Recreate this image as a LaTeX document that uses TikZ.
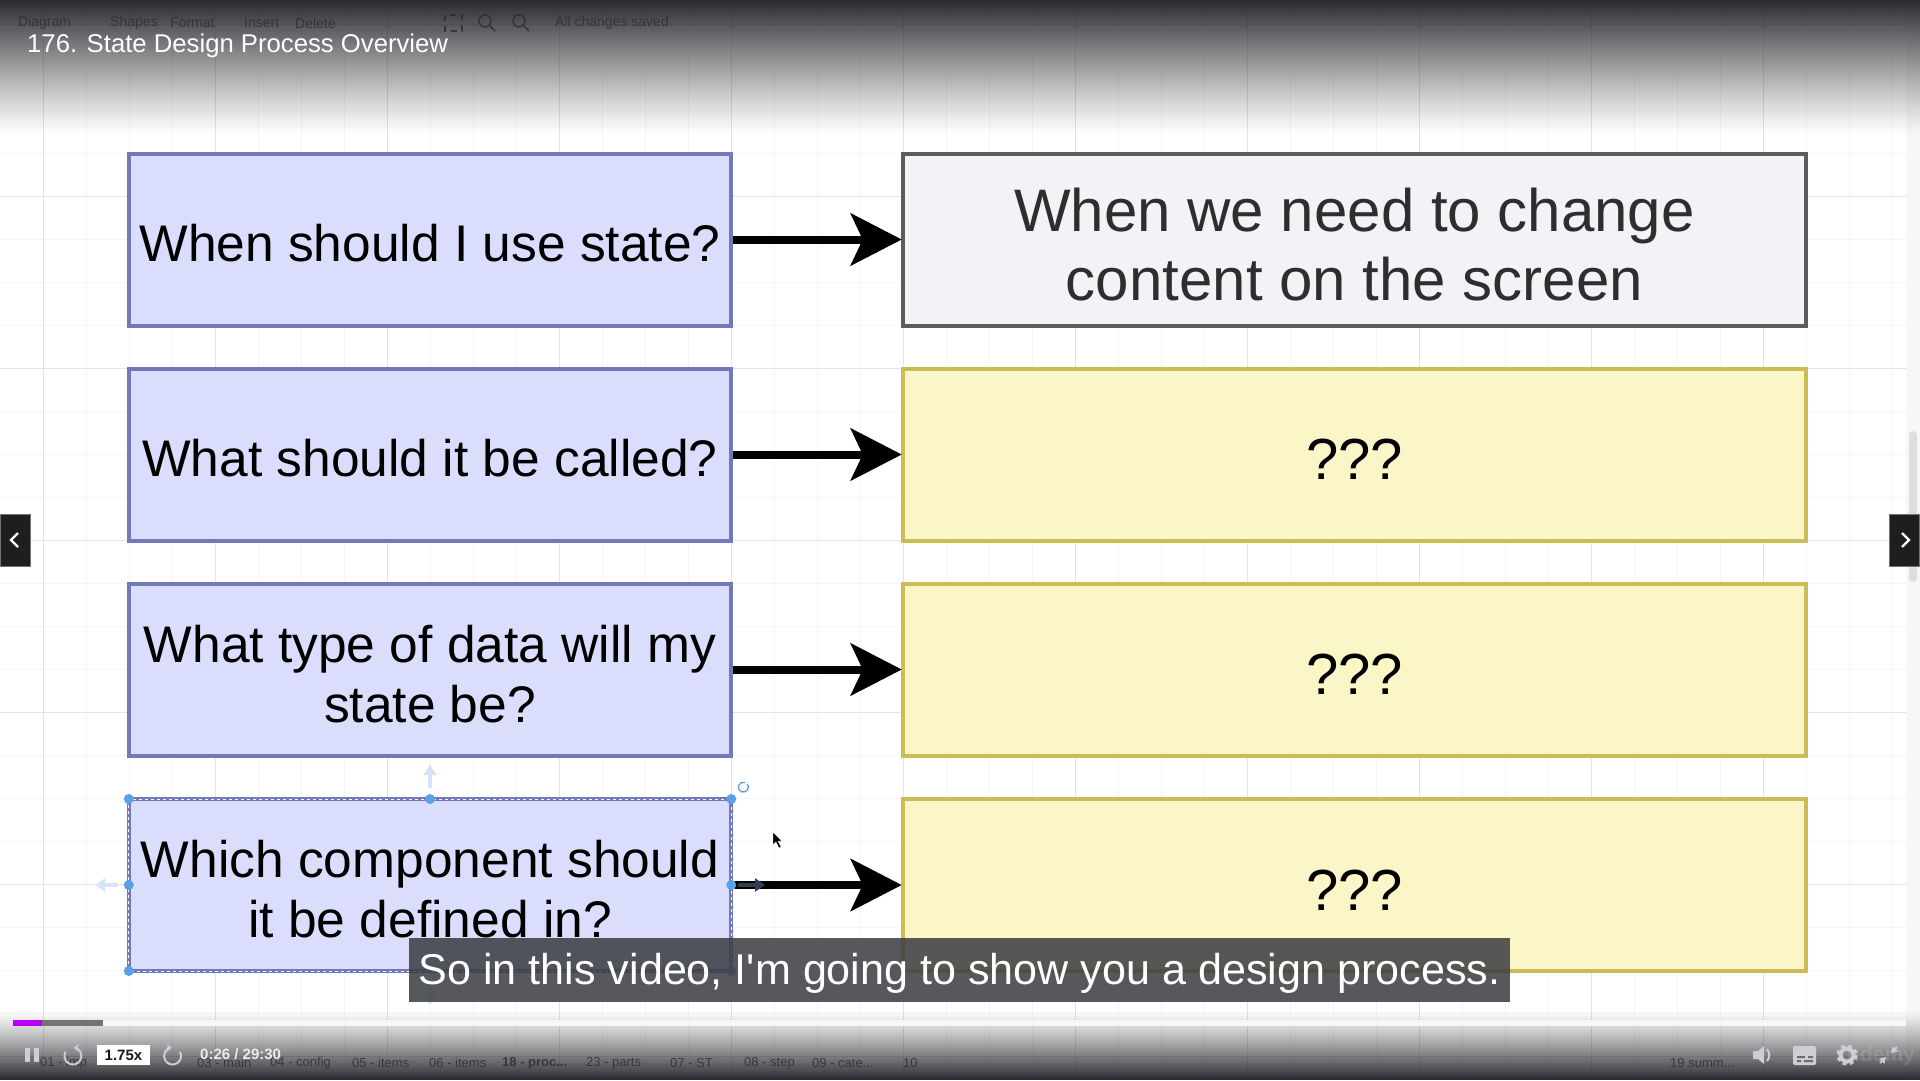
\documentclass[tikz,border=0pt]{standalone}
\usepackage{fontspec}
\setmainfont{Liberation Sans}
\newfontfamily\capfont{Liberation Sans}
\usetikzlibrary{arrows.meta}
\definecolor{askfill}{HTML}{DADEFC}
\definecolor{askline}{HTML}{7379B8}
\definecolor{donefill}{HTML}{F4F2F6}
\definecolor{doneline}{HTML}{5C5C5E}
\definecolor{openfill}{HTML}{FAF6C8}
\definecolor{openline}{HTML}{CDBB55}
\definecolor{veil}{HTML}{2A2B30}
\definecolor{handle}{HTML}{5AA0E8}
\definecolor{ghost}{HTML}{D3E4F8}
\definecolor{icon}{HTML}{CDCED1}
\definecolor{captionbg}{HTML}{3A3B40}
\definecolor{navbg}{HTML}{1C1E20}
\definecolor{played}{HTML}{B800F5}
\definecolor{pullnavy}{HTML}{2F3E55}
\tikzset{
    ask/.style={draw=askline, fill=askfill, line width=4pt, outer sep=0, inner sep=0,
        minimum width=602.5pt, minimum height=172pt, align=center,
        font=\fontsize{51.5}{60}\selectfont,
        execute at begin node={\rule{0pt}{44.5pt}}},
    answer/.style={line width=4pt, outer sep=0, inner sep=0,
        minimum width=902.5pt, minimum height=172pt, align=center},
    done/.style={answer, draw=doneline, fill=donefill, text=black!82,
        font=\fontsize{60}{69}\selectfont},
    open/.style={answer, draw=openline, fill=openfill,
        font=\fontsize{58}{69}\selectfont,
        execute at begin node={\rule{0pt}{50pt}}},
    link/.style={line width=8pt, -{Stealth[length=51pt, width=52pt, inset=12pt]},
        shorten >=1.5pt, shorten <=1.5pt},
    dot/.style={circle, fill=handle, inner sep=0, minimum size=10pt},
    nudge/.style={ghost, line width=4pt, -{Stealth[length=10pt, width=13pt, inset=0pt]}},
    menu/.style={anchor=west, inner sep=0, text=black!65, font=\fontsize{14}{17}\selectfont},
    tab/.style={menu, font=\fontsize{13}{16}\selectfont},
    navbox/.style={fill=navbg, draw=black!55, line width=1pt, minimum width=30pt, minimum height=52pt, inner sep=0},
}
\begin{document}
\begin{tikzpicture}[x=1pt, y=-1pt]
    \useasboundingbox (0, 0) rectangle (1920, 1080);
    \fill[white] (0, 0) rectangle (1920, 1080);

    % canvas grid
    \foreach \gx in {0, ..., 43} {
        \draw[black!4, line width=1pt] ({43 + 43*\gx}, 0) -- ({43 + 43*\gx}, 1080);
    }
    \foreach \gy in {-3, ..., 21} {
        \draw[black!4, line width=1pt] (0, {196 + 43*\gy}) -- (1906, {196 + 43*\gy});
    }
    \foreach \gx in {0, ..., 10} {
        \draw[black!11, line width=1pt] ({43 + 172*\gx}, 0) -- ({43 + 172*\gx}, 1080);
    }
    \foreach \gy in {-1, ..., 5} {
        \draw[black!11, line width=1pt] (0, {196 + 172*\gy}) -- (1906, {196 + 172*\gy});
    }
    \fill[black!3] (1906, 0) rectangle (1920, 1080);
    \fill[black!13, rounded corners=4pt] (1909, 431) rectangle (1917, 582);

    % questions
    \node[ask] (q1) at (430, 239.5) {When should I use state?};
    \node[ask] (q2) at (430, 454.5) {What should it be called?};
    \node[ask] (q3) at (430, 669.5) {\rule{0pt}{45.5pt}What type of data will my\\state be?};
    \node[ask] (q4) at (430, 885) {\rule{0pt}{45.5pt}Which component should\\it be defined in?};

    % answers
    \node[done] (a1) at (1354.5, 239.5) {\rule{0pt}{54pt}When we need to change\\content on the screen};
    \node[open] (a2) at (1354.5, 454.5) {???};
    \node[open] (a3) at (1354.5, 669.5) {???};
    \node[open] (a4) at (1354.5, 885) {???};

    \draw[link] (q1) -- (a1);
    \draw[link] (q2) -- (a2);
    \draw[link] (q3) -- (a3);
    \draw[link] (q4) -- (a4);

    % selection on the last question
    \draw[white, dashed, line width=1pt] (q4.north west) rectangle (q4.south east);
    \coordinate (upend) at (430, 765);
    \coordinate (upstart) at (430, 788);
    \coordinate (leftend) at (95, 885);
    \coordinate (leftstart) at (118, 885);
    \coordinate (rightstart) at (738, 885);
    \coordinate (rightend) at (765, 885);
    \coordinate (downstart) at (430, 982);
    \coordinate (downend) at (430, 1005);
    \draw[nudge] (upstart) -- (upend);
    \draw[nudge] (leftstart) -- (leftend);
    \draw[nudge] (downstart) -- (downend);
    \draw[nudge, pullnavy] (rightstart) -- (rightend);
    \foreach \corner in {north west, north, north east, west, east, south west, south east} {
        \node[dot] at (q4.\corner) {};
    }
    \draw[handle, line width=1.3pt] (745, 782.5) arc (-70:-400:5);
    \fill[black, draw=white, line width=.4pt] (773, 832) -- (773, 845) -- (776, 842) -- (779, 848) -- (781, 847) -- (778, 841) -- (782, 841) -- cycle;

    % page behind the player
    \node[menu] (m1) at (18, 23) {Diagram};
    \node[menu] (m2) at (110, 23) {Shapes};
    \node[menu] (m3) at (170, 23) {Format};
    \node[menu] (m4) at (244, 23) {Insert};
    \node[menu] (m5) at (295, 23) {Delete};
    \node[menu] (m6) at (555, 23) {All changes saved};
    \draw[black!65, line width=1.5pt, dash pattern=on 6pt off 5pt] (445, 15) rectangle (462, 31);
    \draw[black!65, line width=1.5pt] (485, 21) circle (6) (490, 26) -- (495, 31);
    \draw[black!65, line width=1.5pt] (519, 21) circle (6) (524, 26) -- (529, 31);
    \foreach \tabx/\tabtext in {40/{01 - imp}, 197/{03 - main}, 270/{04 - config}, 352/{05 - items}, 429/{06 - items}, 586/{23 - parts}, 670/{07 - ST}, 744/{08 - step}, 812/{09 - cate...}, 903/{10}, 1670/{19 summ...}} {
        \node[tab] at (\tabx, 1063) {\tabtext};
    }
    \node[tab, font=\fontsize{13}{16}\bfseries\selectfont] (t18) at (502, 1063) {18 - proc...};

    % player shades
    \foreach \sy in {0, 2, ..., 132} {
        \pgfmathsetmacro{\sop}{(1 - (\sy+1)/135)^1.15}
        \fill[veil, fill opacity=\sop] (0, \sy) rectangle (1920, \sy + 2);
    }
    \foreach \sy in {1010, 1012, ..., 1078} {
        \pgfmathsetmacro{\sop}{((\sy+1-1010)/70)^1.2}
        \fill[veil, fill opacity=\sop] (0, \sy) rectangle (1920, \sy + 2);
    }

    \node[anchor=west, inner sep=0, text=white, font=\fontsize{25.7}{30}\selectfont] (title) at (27, 46) {176. State Design Process Overview};

    % caption
    \node[fill=captionbg, fill opacity=.85, text opacity=1, text=white, minimum width=1101pt, minimum height=64pt, inner sep=0, font=\fontsize{43.1}{48}\capfont] (caption) at (959.5, 970) {\rule{0pt}{38pt}So in this video, I'm going to show you a design process.};

    % progress bar
    \fill[black!3] (103, 1020) rectangle (1906, 1026);
    \fill[black!55] (42, 1020) rectangle (103, 1026);
    \fill[played] (13, 1020) rectangle (42, 1026);

    % player controls
    \fill[icon] (25, 1048) rectangle (30, 1062);
    \fill[icon] (34, 1048) rectangle (39, 1062);
    \draw[icon, line width=2pt, -{Stealth[length=5pt, width=8pt]}] (65.6, 1051.75) arc (210:-85:8.5);
    \draw[icon, line width=2pt, -{Stealth[length=5pt, width=8pt]}] (179.9, 1051.75) arc (-30:265:8.5);
    \node[fill=white, minimum width=53pt, minimum height=20pt, inner sep=0, text=black!90, font=\fontsize{15}{18}\bfseries\selectfont] (speed) at (123.5, 1055) {1.75x};
    \node[anchor=west, inner sep=0, text=white!92!black, font=\fontsize{15}{18}\bfseries\selectfont] (time) at (200, 1054) {0:26 / 29:30};

    \fill[icon] (1753, 1051) -- (1758, 1051) -- (1764, 1046) -- (1764, 1064) -- (1758, 1059) -- (1753, 1059) -- cycle;
    \draw[icon, line width=2pt] (1767, 1049) to[bend left=40] (1767, 1061);
    \fill[icon, rounded corners=2pt] (1793, 1046) rectangle (1816, 1065);
    \fill[veil!60!icon] (1797, 1056) rectangle (1805, 1058) (1808, 1056) rectangle (1813, 1058) (1797, 1060) rectangle (1801, 1062) (1804, 1060) rectangle (1813, 1062);
    \draw[icon, line width=5pt, dash pattern=on 3.4pt off 3pt] (1847, 1055) circle (8);
    \draw[icon, line width=4pt] (1847, 1055) circle (6.5);
    \node[text=white, opacity=.12, inner sep=0, font=\fontsize{21}{24}\bfseries\selectfont] (brand) at (1881, 1056) {udemy};
    \draw[icon, line width=2pt, -{Stealth[length=6pt, width=7pt, inset=0pt]}] (1880, 1063) -- (1886, 1057);
    \draw[icon, line width=2pt, -{Stealth[length=6pt, width=7pt, inset=0pt]}] (1897, 1047) -- (1891, 1053);

    % lesson arrows
    \node[navbox] (prev) at (15, 540) {};
    \node[navbox] (next) at (1904.5, 540) {};
    \draw[white, line width=2.2pt] (18, 533) -- (11, 540) -- (18, 547);
    \draw[white, line width=2.2pt] (1902, 533) -- (1909, 540) -- (1902, 547);
\end{tikzpicture}
\end{document}
